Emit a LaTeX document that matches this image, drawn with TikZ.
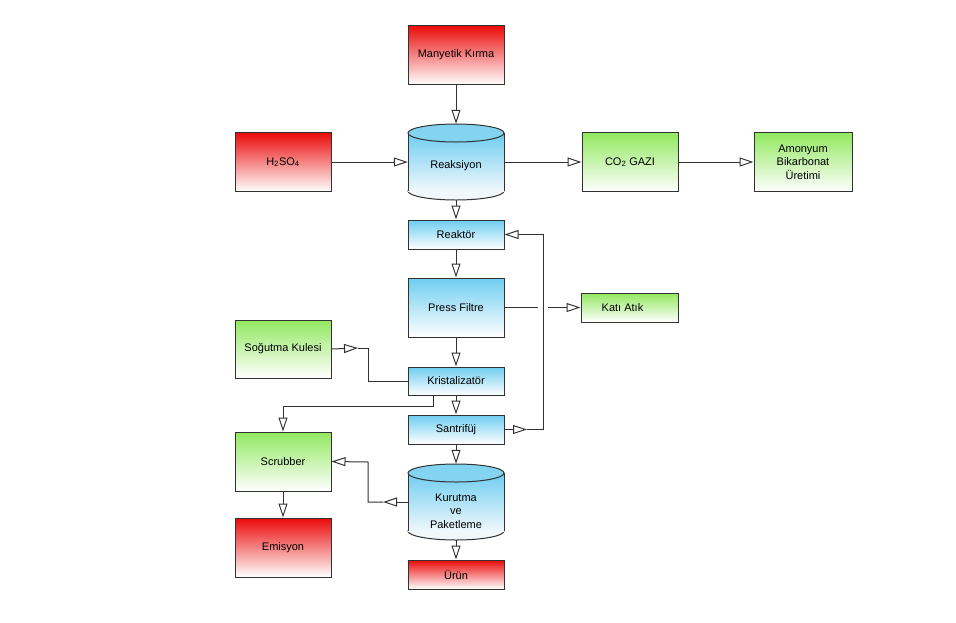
\documentclass[tikz,border=0pt]{standalone}
\usepackage{fontspec}
\setmainfont{Liberation Sans}
\usetikzlibrary{arrows.meta}
\definecolor{edge}{RGB}{50,50,50}
\definecolor{redtop}{RGB}{235,10,10}
\definecolor{greentop}{RGB}{145,232,95}
\definecolor{bluetop}{RGB}{110,205,240}
\definecolor{cyltop}{RGB}{130,212,240}
\definecolor{cylbot}{RGB}{240,248,252}
\newcommand{\mycyl}[3]{%
  \path[draw=edge,line width=1pt,fill=cylbot] (#1,#3-9) ellipse[x radius=48,y radius=9];
  \shade[top color=bluetop,bottom color=cylbot] (#1-48,#2+9) rectangle (#1+48,#3-9);
  \draw[edge,line width=1pt] (#1-48,#2+9) -- (#1-48,#3-9) (#1+48,#2+9) -- (#1+48,#3-9);
  \path[draw=edge,line width=1pt,fill=cyltop] (#1,#2+9) ellipse[x radius=48,y radius=9];
}
\begin{document}
\begin{tikzpicture}[x=1pt,y=-1pt,
  font=\fontsize{11}{13.5}\selectfont,
  box/.style={draw=edge,line width=1pt,rectangle,align=center,inner sep=0pt,
    minimum width=96pt},
  redbox/.style={box,top color=redtop,bottom color=white},
  greenbox/.style={box,top color=greentop,bottom color=white},
  bluebox/.style={box,top color=bluetop,bottom color=white},
  tall/.style={minimum height=59pt},
  short/.style={minimum height=29pt},
  cylnode/.style={rectangle,inner sep=0pt,minimum width=96pt,minimum height=76pt},
  flow/.style={draw=edge,line width=1pt},
  arr/.style={flow,-{Triangle[open,length=14pt,width=9pt]}},
]
\fill[white] (0,0) rectangle (956,622);
\useasboundingbox (0,0) rectangle (956,622);

% boxes
\node[redbox,tall] (mk) at (456,55) {Manyetik Kırma};
\node[redbox,tall] (h2) at (283,162) {H\textsubscript{2}SO\textsubscript{4}};
\node[greenbox,tall] (co) at (630,162) {CO\textsubscript{2} GAZI};
\node[greenbox,tall,minimum width=98pt] (am) at (803,162) {Amonyum\\Bikarbonat\\Üretimi};
\node[bluebox,short] (rk) at (456,234.5) {Reaktör};
\node[bluebox,tall] (pf) at (456,307.5) {Press Filtre};
\node[greenbox,short,minimum width=97pt] (ka) at (629.5,307.5) {\hspace*{-14pt}Katı Atık};
\node[greenbox,tall,minimum height=58pt] (sk) at (283,349) {Soğutma Kulesi};
\node[bluebox,short,minimum height=28pt] (kr) at (456,381) {Kristalizatör};
\node[bluebox,short] (sa) at (456,429.5) {Santrifüj};
\node[greenbox,tall] (sc) at (283,461.5) {Scrubber};
\node[redbox,tall] (em) at (283,547.5) {Emisyon};
\node[redbox,short] (ur) at (456,574.5) {Ürün};

% cylinders
\mycyl{456}{124}{200}
\node[cylnode] (re) at (456,162) {};
\node[align=center] (ret) at (456,166) {Reaksiyon};
\mycyl{456}{464}{540}
\node[cylnode] (ku) at (456,502) {};
\node[align=center] (kut) at (456,511) {Kurutma\\ve\\Paketleme};

% helper coordinates
\coordinate (skm) at (358,348);
\coordinate (skc) at (368,348);
\coordinate (krc) at (368,381);
\coordinate (sam) at (527,429.5);
\coordinate (sac) at (543,429.5);
\coordinate (rkc) at (543,234.5);
\coordinate (pfa) at (538,307.5);
\coordinate (pfb) at (548,307.5);
\coordinate (krb) at (433,395);
\coordinate (krd) at (433,406);
\coordinate (scd) at (283,406);
\coordinate (kum) at (383,502);
\coordinate (kuc) at (368,502);
\coordinate (scc) at (368,462);

% connectors
\draw[arr] (mk.south) -- (re.north);
\draw[arr] (h2.east) -- (re.west);
\draw[arr] (re.east) -- (co.west);
\draw[arr] (co.east) -- (am.west);
\draw[arr] (re.south) -- (rk.north);
\draw[arr] (rk.south) -- (pf.north);
\draw[arr] (pf.south) -- (kr.north);
\draw[arr] (kr.south) -- (sa.north);
\draw[arr] (sa.south) -- (ku.north);
\draw[arr] (ku.south) -- (ur.north);
\draw[arr] (sc.south) -- (em.north);

\draw[arr] (sk.east) -- (skm);
\draw[flow] (skm) -- (skc) -- (krc) -- (kr.west);

\draw[arr] (sa.east) -- (sam);
\draw[arr] (sam) -- (sac) -- (rkc) -- (rk.east);

\draw[flow] (pf.east) -- (pfa);
\draw[arr] (pfb) -- (ka.west);

\draw[arr] (krb) -- (krd) -- (scd) -- (sc.north);

\draw[arr] (ku.west) -- (kum);
\draw[arr] (kum) -- (kuc) -- (scc) -- (sc.east);
\end{tikzpicture}
\end{document}
